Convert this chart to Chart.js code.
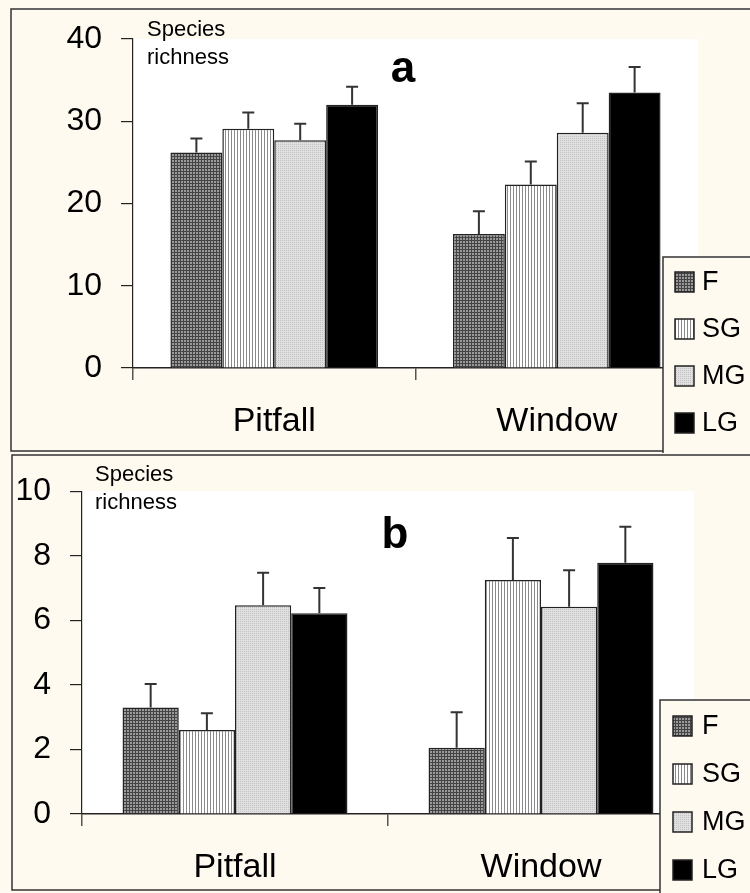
<!DOCTYPE html>
<html>
<head>
<meta charset="utf-8">
<script src="https://cdn.jsdelivr.net/npm/chart.js@4.4.0/dist/chart.umd.min.js"></script>
<style>
  html, body { margin: 0; padding: 0; background: #fffaf0; }
  body { width: 750px; height: 893px; position: relative; overflow: hidden; }
  canvas { position: absolute; left: 0; }
  #chart-a { top: 0; }
  #chart-b { top: 453px; }
</style>
</head>
<body>
<canvas id="chart-a" width="750" height="453"></canvas>
<canvas id="chart-b" width="750" height="440"></canvas>
<script>
// data
const categories = ['Pitfall', 'Window'];
const habitats = ['F', 'SG', 'MG', 'LG'];

// panel a: species richness, one row per habitat [Pitfall, Window]
const meanA = [[26.2, 16.3], [29.1, 22.3], [27.7, 28.6], [32.0, 33.5]];
const errA = [[1.7, 2.75], [1.95, 2.8], [2.0, 3.6], [2.2, 3.1]];
const ticksA = { max: 40, step: 10 };

// panel b
const meanB = [[3.3, 2.05], [2.6, 7.25], [6.47, 6.42], [6.22, 7.78]];
const errB = [[0.73, 1.1], [0.52, 1.3], [1.0, 1.13], [0.78, 1.12]];
const ticksB = { max: 10, step: 2 };

const FONT = "'Liberation Sans', Arial, sans-serif";

// fill patterns for the four habitats
function makePattern(size, paint) {
    const c = document.createElement('canvas');
    c.width = size; c.height = size;
    const g = c.getContext('2d');
    paint(g);
    return g.createPattern(c, 'repeat');
}

const fills = [
    makePattern(3, g => {            // F: dark grid
        g.fillStyle = '#9a9a9a'; g.fillRect(0, 0, 3, 3);
        g.fillStyle = '#444'; g.fillRect(0, 0, 3, 1); g.fillRect(0, 0, 1, 3);
    }),
    makePattern(3, g => {            // SG: vertical stripes
        g.fillStyle = '#fff'; g.fillRect(0, 0, 3, 3);
        g.fillStyle = '#8a8a8a'; g.fillRect(0, 0, 1, 3);
    }),
    makePattern(2, g => {            // MG: light stipple
        g.fillStyle = '#e0e0e0'; g.fillRect(0, 0, 2, 2);
        g.fillStyle = '#c2c2c2'; g.fillRect(0, 0, 1, 1);
    }),
    '#000'                           // LG: solid black
];

// white plot background and panel frame
const frame = {
    id: 'frame',
    beforeDraw(chart, args, opts) {
        const { ctx, chartArea } = chart;
        ctx.save();
        ctx.fillStyle = '#fff';
        ctx.fillRect(chartArea.left, chartArea.top, chartArea.right - chartArea.left, chartArea.bottom - chartArea.top);
        ctx.strokeStyle = '#333';
        ctx.lineWidth = 1.5;
        ctx.strokeRect(opts.box[0], opts.box[1], opts.box[2], opts.box[3]);
        ctx.restore();
    }
};

// upper error bars only
const errorBars = {
    id: 'errorBars',
    afterDatasetsDraw(chart, args, opts) {
        const { ctx } = chart;
        const y = chart.scales.y;
        ctx.save();
        ctx.strokeStyle = '#333';
        ctx.lineWidth = 2;
        chart.data.datasets.forEach((ds, i) => {
            chart.getDatasetMeta(i).data.forEach((bar, j) => {
                const top = y.getPixelForValue(ds.data[j] + opts.errors[i][j]);
                ctx.beginPath();
                ctx.moveTo(bar.x, bar.y);
                ctx.lineTo(bar.x, top);
                ctx.moveTo(bar.x - 6, top);
                ctx.lineTo(bar.x + 6, top);
                ctx.stroke();
            });
        });
        ctx.restore();
    }
};

// legend box, axis title and panel letter
const extras = {
    id: 'extras',
    afterDraw(chart, args, opts) {
        const { ctx } = chart;
        ctx.save();
        const L = opts.legend;
        ctx.fillStyle = '#fffaf0';
        ctx.strokeStyle = '#333';
        ctx.lineWidth = 1.5;
        ctx.fillRect(L.x, L.y, 120, chart.height - L.y + 10);
        ctx.strokeRect(L.x, L.y, 120, chart.height - L.y + 10);
        ctx.font = '27px ' + FONT;
        ctx.textBaseline = 'middle';
        chart.data.datasets.forEach((ds, i) => {
            const cy = L.first + i * L.gap;
            ctx.fillStyle = ds.backgroundColor;
            ctx.fillRect(L.sx, cy - 10, 19, 20);
            ctx.lineWidth = 1.5;
            ctx.strokeStyle = '#222';
            ctx.strokeRect(L.sx, cy - 10, 19, 20);
            ctx.fillStyle = '#000';
            ctx.fillText(ds.label, L.tx, cy + 1);
        });

        ctx.fillStyle = '#000';
        ctx.textBaseline = 'alphabetic';
        ctx.font = '22px ' + FONT;
        ctx.fillText('Species', opts.title[0], opts.title[1]);
        ctx.fillText('richness', opts.title[0], opts.title[1] + 28);

        ctx.font = 'bold 44px ' + FONT;
        ctx.textAlign = 'center';
        ctx.fillText(opts.letter[0], opts.letter[1], opts.letter[2]);
        ctx.restore();
    }
};

function makeChart(id, means, errors, ticks, geo) {
    const ctx = document.getElementById(id).getContext('2d');
    return new Chart(ctx, {
        type: 'bar',
        data: {
            labels: categories,
            datasets: habitats.map((h, i) => ({
                label: h,
                data: means[i],
                backgroundColor: fills[i],
                borderColor: '#222',
                borderWidth: 1.5,
                barPercentage: 1,
                categoryPercentage: 0.735
            }))
        },
        options: {
            responsive: false,
            animation: false,
            devicePixelRatio: 1,
            layout: { padding: { left: 0, top: geo.top, right: geo.right, bottom: 0 } },
            plugins: {
                legend: { display: false },
                tooltip: { enabled: false },
                frame: { box: geo.box },
                errorBars: { errors: errors },
                extras: { legend: geo.legend, title: geo.title, letter: geo.letter }
            },
            scales: {
                x: {
                    grid: { offset: true, drawOnChartArea: false, tickLength: 12, color: '#555', lineWidth: 1.5 },
                    border: { color: '#222', width: 1.5 },
                    ticks: { color: '#000', padding: 21, font: { family: FONT, size: 34 } },
                    afterFit: s => { s.height = geo.xHeight; }
                },
                y: {
                    min: 0,
                    max: ticks.max,
                    ticks: { stepSize: ticks.step, color: '#000', padding: 19, font: { family: FONT, size: 32 } },
                    grid: { drawOnChartArea: false, tickLength: 12, color: '#222', lineWidth: 1.2 },
                    border: { color: '#222', width: 1.2 },
                    afterFit: s => { s.width = geo.yWidth; }
                }
            }
        },
        plugins: [frame, errorBars, extras]
    });
}

makeChart('chart-a', meanA, errA, ticksA, {
    top: 39, right: 52, xHeight: 85, yWidth: 133,
    box: [11, 9, 760, 442],
    legend: { x: 663, y: 257, first: 282, gap: 47, sx: 675, tx: 702 },
    title: [147, 36],
    letter: ['a', 403, 82]
});

makeChart('chart-b', meanB, errB, ticksB, {
    top: 31, right: 56, xHeight: 79, yWidth: 82,
    box: [12, 2, 760, 435],
    legend: { x: 660, y: 247, first: 273, gap: 48, sx: 673, tx: 702 },
    title: [95, 28],
    letter: ['b', 395, 95]
});
</script>
</body>
</html>
